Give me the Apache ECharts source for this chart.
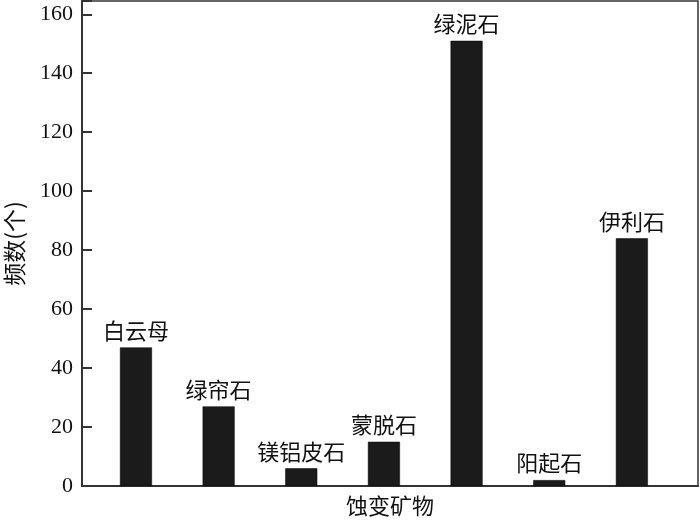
<!DOCTYPE html>
<html>
<head>
<meta charset="utf-8">
<script src="https://cdn.jsdelivr.net/npm/echarts@6/dist/echarts.min.js"></script>
<style>
html, body { margin: 0; padding: 0; background: #fff; }
#chart { width: 700px; height: 520px; }
</style>
</head>
<body>
<div id="chart"></div>
<script>
// 蚀变矿物频数柱状图
var minerals = ['白云母', '绿帘石', '镁铝皮石', '蒙脱石', '绿泥石', '阳起石', '伊利石'];
var positions = [1, 2, 3, 4, 5, 6, 7];
var counts = [47, 27, 6, 15, 151, 2, 84];

var myChart = echarts.init(document.getElementById('chart'));
var barData = [];
for (var i = 0; i < minerals.length; i++) {
    barData.push([positions[i], counts[i]]);
}
var cjk = '"Noto Sans CJK SC", sans-serif';
var serif = '"Liberation Serif", "DejaVu Serif", serif';

var option = {
    animation: false,
    grid: {
        left: 82,
        top: 1,
        right: 2,
        bottom: 34,
        outerBoundsMode: 'none',
        containLabel: false,
        show: true,
        borderColor: '#333',
        borderWidth: 1.5
    },
    xAxis: {
        type: 'value',
        min: 0.347,
        max: 7.8,
        name: '蚀变矿物',
        nameLocation: 'middle',
        nameGap: 9,
        nameTextStyle: { fontFamily: cjk, fontSize: 22, color: '#111' },
        axisLine: { show: true, lineStyle: { color: '#333', width: 2 } },
        axisTick: { show: false },
        axisLabel: { show: false },
        splitLine: { show: false }
    },
    yAxis: {
        type: 'value',
        min: 0,
        max: 164.5,
        interval: 20,
        name: '频数(个)',
        nameLocation: 'middle',
        nameGap: 56,
        nameRotate: 90,
        nameTextStyle: { fontFamily: cjk, fontSize: 23, color: '#111' },
        axisLine: { show: true, lineStyle: { color: '#333', width: 2 } },
        axisTick: { show: true, inside: true, length: 10, lineStyle: { color: '#333', width: 2 } },
        axisLabel: {
            margin: 9,
            fontFamily: serif,
            fontSize: 22,
            color: '#111',
            formatter: function (v) {
                return v % 20 === 0 ? String(v) : '';
            }
        },
        splitLine: { show: false }
    },
    series: [
        {
            name: '频数',
            type: 'bar',
            barWidth: 32,
            data: barData,
            itemStyle: { color: '#1b1b1b', borderColor: '#000', borderWidth: 0.5 },
            label: {
                show: true,
                position: 'top',
                distance: 6,
                fontFamily: cjk,
                fontSize: 22,
                color: '#111',
                formatter: function (p) {
                    return minerals[p.dataIndex];
                }
            }
        }
    ]
};
myChart.setOption(option);
</script>
</body>
</html>
